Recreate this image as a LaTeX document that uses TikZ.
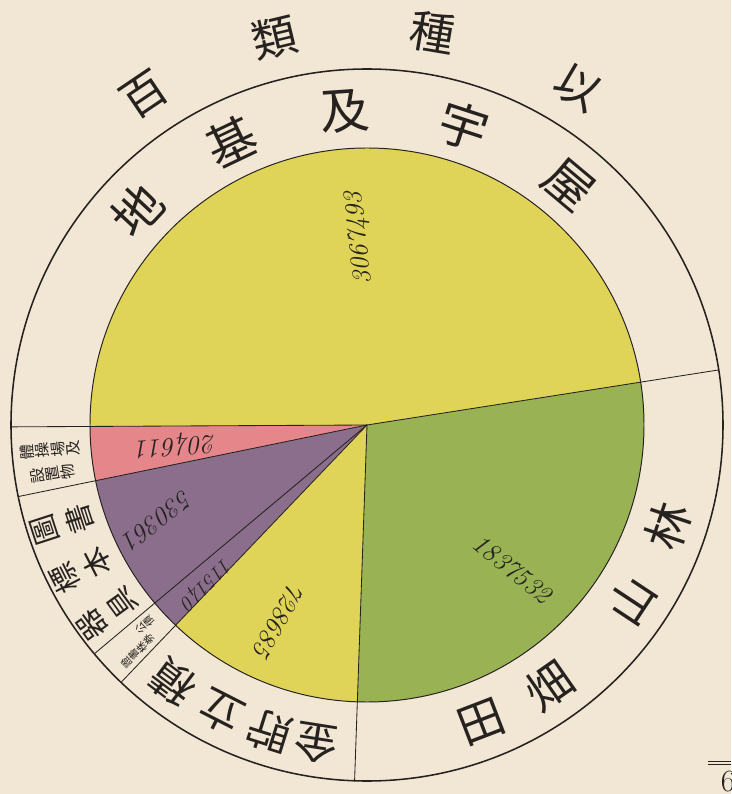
\documentclass[tikz,border=0pt]{standalone}
\usepackage{fontspec}
\newfontfamily\cjk{Noto Sans CJK JP}
\definecolor{paper}{RGB}{242,231,212}
\definecolor{pieyellow}{RGB}{224,212,88}
\definecolor{piegreen}{RGB}{152,178,84}
\definecolor{piepink}{RGB}{229,134,138}
\definecolor{piepurple}{RGB}{138,110,140}
\definecolor{ink}{RGB}{38,34,32}
\newcommand{\cjksize}[1]{\cjk\fontsize{#1}{#1}\selectfont}

\begin{document}
\begin{tikzpicture}[x=0.025cm, y=0.025cm,
    ring/.style={text=ink, inner sep=0pt},
    num/.style={text=ink, inner sep=0pt, font=\itshape\fontsize{19}{19}\selectfont}]
            \fill [paper] (-367,-369) rectangle (364,425);
            \useasboundingbox (-367,-369) rectangle (364,425);
            % slices
            \fill [pieyellow] (0,0) -- (8.9:277) arc [start angle=8.9, end angle=180.3, radius=277] -- cycle;
            \fill [piepink] (0,0) -- (180.3:277) arc [start angle=180.3, end angle=191.6, radius=277] -- cycle;
            \fill [piepurple] (0,0) -- (191.6:277) arc [start angle=191.6, end angle=226.3, radius=277] -- cycle;
            \fill [pieyellow] (0,0) -- (226.3:277) arc [start angle=226.3, end angle=268, radius=277] -- cycle;
            \fill [piegreen] (0,0) -- (268:277) arc [start angle=268, end angle=368.9, radius=277] -- cycle;
            \draw [ink, line width=0.7pt] (0,0) circle (277);
            \draw [ink, line width=1.1pt] (0,0) circle (356);
            \foreach \a in {8.9, 180.3, 191.6, 220, 226.3, 268}
                \draw [ink, line width=0.6pt] (0,0) -- (\a:356);
            % title outside the ring
            \foreach \a/\c [count=\i] in {58/以, 80.5/種, 103.5/類, 124/百}
                \node (title\i) [ring, rotate=\a-90, font=\cjksize{32}] at (\a:398) {\c};
            % ring labels
            \foreach \a/\c [count=\i] in {50/屋, 72/宇, 94/及, 115.5/基, 137/地}
                \node (house\i) [ring, rotate=\a-90, font=\cjksize{35}] at (\a:314) {\c};
            \foreach \a/\c [count=\i] in {291/田, 305/畑, 326.5/山, 341.5/林}
                \node (field\i) [ring, rotate=\a+90, font=\cjksize{33}] at (\a:318) {\c};
            \foreach \a/\c [count=\i] in {233/積, 243/立, 252.5/貯, 261/金}
                \node (fund\i) [ring, rotate=\a-90, font=\cjksize{31}] at (\a:322) {\c};
            \foreach \a/\o/\n [count=\i] in {198/圖/書, 207/標/本, 216/器/具} {
                \node (bookout\i) [ring, rotate=\a-90, font=\cjksize{21}] at (\a:339) {\o};
                \node (bookin\i) [ring, rotate=\a-90, font=\cjksize{21}] at (\a:303) {\n};
            }
            \node (gym) [ring, rotate=94.5, align=center, font=\cjksize{11}] at (184.5:318) {體\\操\\場\\及};
            \node (gymset) [ring, rotate=98.8, align=center, font=\cjksize{11}] at (188.8:318) {設\\置\\物};
            \node (bond) [ring, rotate=132, align=center, font=\cjksize{7.5}] at (222:298) {公\\債};
            \node (bondpaper) [ring, rotate=134.6, align=center, font=\cjksize{7.5}] at (224.6:322) {證\\書\\株\\券};
            % values
            \node (v1) [num, rotate=96] at (-7,187) {3067493};
            \node (v2) [num, rotate=-39] at (145,-144) {1837532};
            \node (v3) [num, rotate=241] at (-88,-195) {728685};
            \node (v4) [num, rotate=225, font=\itshape\fontsize{15}{15}\selectfont] at (-161,-158) {115140};
            \node (v5) [num, rotate=218] at (-209,-95) {530361};
            \node (v6) [num, rotate=184] at (-191,-20) {204611};
            % page mark
            \draw [ink] (341,-336) -- (364,-336);
            \draw [ink] (341,-339.5) -- (364,-339.5);
            \node (page) [text=ink, font=\fontsize{22}{22}\selectfont] at (361,-357) {6};
        \end{tikzpicture}
\end{document}
